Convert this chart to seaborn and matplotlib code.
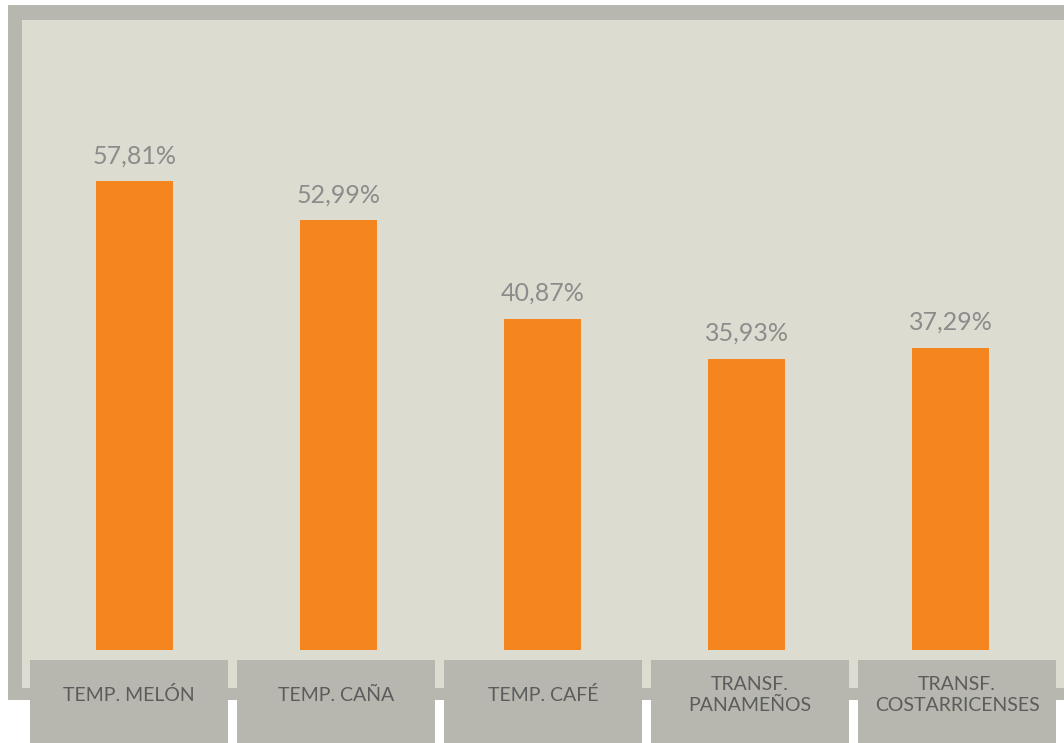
import matplotlib
matplotlib.use("Agg")
import matplotlib.pyplot as plt
from matplotlib.patches import Rectangle
import pandas as pd
import seaborn as sns

# Data
categories = ["TEMP. MELÓN", "TEMP. CAÑA", "TEMP. CAFÉ",
              "TRANSF.\nPANAMEÑOS", "TRANSF.\nCOSTARRICENSES"]
values = [57.81, 52.99, 40.87, 35.93, 37.29]
value_labels = ["57,81%", "52,99%", "40,87%", "35,93%", "37,29%"]

df = pd.DataFrame({"categoria": categories, "valor": values})

sns.set_theme(style="white")
plt.rcParams["font.family"] = ["Lato", "DejaVu Sans"]

W, H = 1064, 743
fig = plt.figure(figsize=(W / 100, H / 100), dpi=100)
fig.patch.set_facecolor("white")

frame_col = "#b8b7af"
panel_col = "#dcdcd0"

# outer frame and inner panel (pixel coords converted to figure fractions)
def px_rect(x0, y0_top, x1, y1_top, color, z):
    fig.patches.append(Rectangle((x0 / W, 1 - y1_top / H), (x1 - x0) / W,
                                 (y1_top - y0_top) / H, transform=fig.transFigure,
                                 facecolor=color, edgecolor="none", zorder=z))

px_rect(8, 5, W + 10, 700, frame_col, 0)
px_rect(22, 20, W + 10, 688, panel_col, 1)

# axes placed over the panel
ax_left, ax_right = 32.5, 1052.5
ax_top, ax_bottom = 20, 650
ax = fig.add_axes([ax_left / W, 1 - ax_bottom / H,
                   (ax_right - ax_left) / W, (ax_bottom - ax_top) / H])
ax.set_facecolor("none")
ax.set_zorder(2)

sns.barplot(data=df, x="categoria", y="valor", color="#f5851f", saturation=1,
            width=0.377, ax=ax, edgecolor="none")

ax.set_xlim(-0.5, 4.5)
ax.set_ylim(0, 77.68)
ax.set_xlabel("")
ax.set_ylabel("")
ax.set_xticks([])
ax.set_yticks([])
for s in ax.spines.values():
    s.set_visible(False)

for i, (v, lab) in enumerate(zip(values, value_labels)):
    ax.annotate(lab, (i, v), xytext=(0, 10), textcoords="offset points",
                ha="center", va="bottom", fontsize=18, color="#8c8c8c")

# category boxes below the chart
box_w, box_gap = 198, 9
for i, cat in enumerate(categories):
    x0 = 30 + i * (box_w + box_gap)
    px_rect(x0, 660, x0 + box_w, H + 5, frame_col, 3)
    fig.text((x0 + box_w / 2) / W, 1 - 695 / H, cat, ha="center", va="center",
             fontsize=14, color="#5c5c5c", linespacing=1.25, zorder=4)

fig.savefig("out.png", dpi=100)
